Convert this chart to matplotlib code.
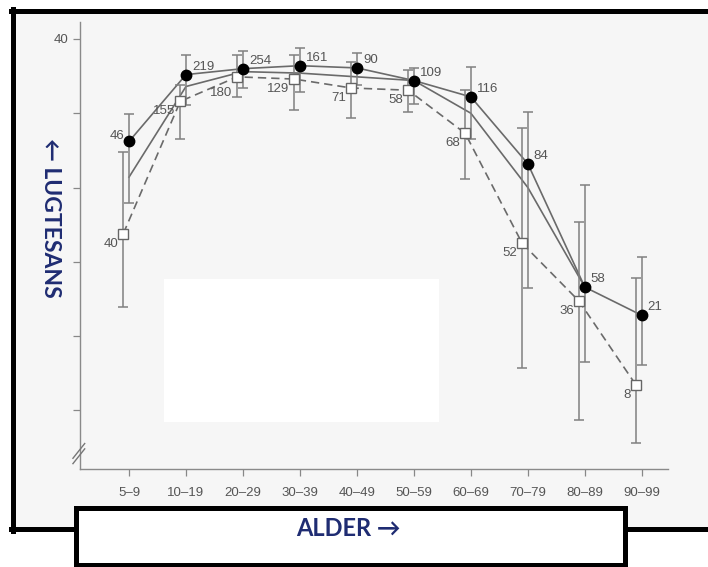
import numpy as np
import matplotlib
matplotlib.use("Agg")
import matplotlib.pyplot as plt
from matplotlib.lines import Line2D
from matplotlib.patches import Rectangle

# age groups on the x axis
ages = ["5–9", "10–19", "20–29", "30–39", "40–49",
        "50–59", "60–69", "70–79", "80–89", "90–99"]

# filled circles (solid line)
circ_val = [33.1, 37.6, 38.0, 38.2, 38.05, 37.2, 36.1, 31.6, 23.3, 21.4]
circ_hi = [34.95, 38.9, 39.2, 39.4, 39.05, 38.05, 38.1, 35.1, 30.2, 25.3]
circ_lo = [28.95, 35.55, 36.7, 36.45, 36.9, 35.65, 33.3, 23.25, 18.25, 18.05]
circ_n = [46, 219, 254, 161, 90, 109, 116, 84, 58, 21]

# open squares (dashed line)
sq_val = [26.9, 35.8, 37.45, 37.3, 36.7, 36.55, 33.65, 26.25, 22.35, 16.7]
sq_hi = [32.4, 36.9, 38.9, 38.9, 38.45, 37.9, 36.55, 34.0, 27.7, 23.9]
sq_lo = [21.95, 33.25, 36.1, 35.2, 34.7, 35.1, 30.6, 17.85, 14.35, 12.8]
sq_n = [40, 155, 180, 129, 71, 58, 68, 52, 36, 8]

# middle line without markers
mid_val = [30.7, 36.8, 37.8, 37.7, 37.45, 37.2, 35.0, 30.0, 23.3, np.nan]

W, H = 708, 567
fx = lambda px: px / W
fy = lambda py: 1 - py / H

fig = plt.figure(figsize=(7.08, 5.67), dpi=100)
fig.patch.set_facecolor("white")

# pasted picture background and white cover
fig.add_artist(Rectangle((fx(12), fy(529)), fx(708) - fx(12), fy(10) - fy(529),
                         transform=fig.transFigure, facecolor="#f6f6f6",
                         edgecolor="none", zorder=-2))
fig.add_artist(Rectangle((fx(164), fy(422)), fx(439) - fx(164), fy(279) - fy(422),
                         transform=fig.transFigure, facecolor="white",
                         edgecolor="none", zorder=-1))

ax = fig.add_axes([fx(80), fy(469), fx(668) - fx(80), fy(22) - fy(469)])
ax.set_facecolor("none")

x = np.arange(len(ages))
xs = x - 0.1
grey = "#6a6a6a"

ax.plot(x, mid_val, color=grey, lw=1.2, zorder=2)
ax.plot(xs, sq_val, color=grey, lw=1.2, ls=(0, (5, 3)), zorder=2)
ax.plot(x, circ_val, color=grey, lw=1.2, zorder=2)

sq_err = [np.array(sq_val) - np.array(sq_lo), np.array(sq_hi) - np.array(sq_val)]
circ_err = [np.array(circ_val) - np.array(circ_lo), np.array(circ_hi) - np.array(circ_val)]
ax.errorbar(xs, sq_val, yerr=sq_err, fmt="none", ecolor="#808080",
            elinewidth=1.1, capsize=3.5, capthick=1.1, zorder=3)
ax.errorbar(x, circ_val, yerr=circ_err, fmt="none", ecolor="#808080",
            elinewidth=1.1, capsize=3.5, capthick=1.1, zorder=3)

ax.plot(xs, sq_val, ls="none", marker="s", ms=6.5, mfc="white",
        mec="#666666", mew=1.0, zorder=4)
ax.plot(x, circ_val, ls="none", marker="o", ms=7.5, mfc="black",
        mec="black", zorder=5)

lab = dict(fontsize=9.5, color="#555555", family="Liberation Sans", zorder=6)
for i, n in enumerate(circ_n):
    if i == 0:
        ax.annotate(str(n), (x[i], circ_val[i]), xytext=(-5, 5),
                    textcoords="offset pixels", ha="right", va="center", **lab)
    else:
        ax.annotate(str(n), (x[i], circ_val[i]), xytext=(6, 8),
                    textcoords="offset pixels", ha="left", va="center", **lab)
for i, n in enumerate(sq_n):
    dy = -16 if n == 180 else -10
    ax.annotate(str(n), (xs[i], sq_val[i]), xytext=(-5, dy),
                textcoords="offset pixels", ha="right", va="center", **lab)

ax.set_xlim(-0.86, 9.46)
ax.set_ylim(11.06, 41.14)
ax.set_xticks(x)
ax.set_xticklabels(ages, fontsize=9.5, color="#555555", family="Liberation Sans")
ax.set_yticks([15, 20, 25, 30, 35, 40])
ax.set_yticklabels(["", "", "", "", "", "40"], fontsize=9.5, color="#555555",
                   family="Liberation Sans")
ax.tick_params(axis="both", direction="out", length=5, width=0.9, color="#888888")
ax.tick_params(axis="x", pad=8)
for s in ["top", "right"]:
    ax.spines[s].set_visible(False)
for s in ["left", "bottom"]:
    ax.spines[s].set_color("#8a8a8a")
    ax.spines[s].set_linewidth(1.0)

# axis break marks
for dy in (0, 0.012):
    ax.plot([-0.012, 0.008], [0.012 + dy, 0.045 + dy], transform=ax.transAxes,
            color="#777777", lw=1.0, clip_on=False, zorder=6)

# black frame of the pasted picture
lw = 3.6
fig.add_artist(Line2D([fx(12.5), fx(12.5)], [fy(8.5), fy(530.5)], lw=lw, color="black", zorder=5))
fig.add_artist(Line2D([fx(10.5), fx(708)], [fy(10.5), fy(10.5)], lw=lw, color="black", zorder=5))
fig.add_artist(Line2D([fx(10.5), fx(77)], [fy(528.5), fy(528.5)], lw=lw, color="black", zorder=5))
fig.add_artist(Line2D([fx(624), fx(708)], [fy(529), fy(529)], lw=lw, color="black", zorder=5))
fig.add_artist(Rectangle((fx(75.5), fy(564.5)), fx(624.5) - fx(75.5), fy(508) - fy(564.5),
                         transform=fig.transFigure, facecolor="white",
                         edgecolor="black", lw=lw, zorder=6))

navy = "#1f2c72"
fig.text(fx(348), fy(529), "ALDER →", ha="center", va="center", fontsize=17,
         fontweight="bold", color=navy, family=["Lato", "DejaVu Sans"], zorder=7)
fig.text(fx(50), fy(218), "← LUGTESANS", ha="center", va="center", fontsize=16.5,
         fontweight="bold", color=navy, rotation=-90,
         family=["Lato", "DejaVu Sans"], zorder=7)

fig.savefig("out.png", dpi=100)
